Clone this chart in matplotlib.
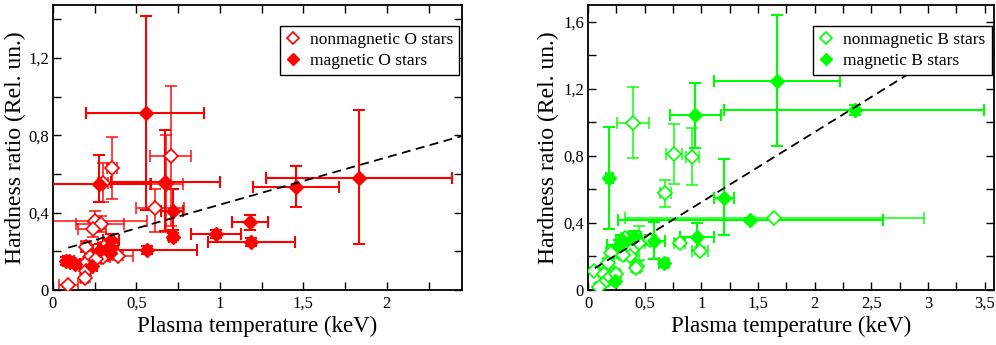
import matplotlib
matplotlib.use("Agg")
import matplotlib.pyplot as plt
from matplotlib.lines import Line2D

plt.rcParams['font.family'] = ['Liberation Serif', 'DejaVu Serif']

# ---------------- Left panel: O stars ----------------
o_mag_x = [0.555, 1.832, 1.457, 0.673, 0.275, 0.719, 0.717, 0.974, 1.18, 1.186, 0.563, 0.347, 0.28, 0.34, 0.235, 0.096, 0.13, 0.33, 0.08]
o_mag_y = [0.916, 0.580, 0.534, 0.556, 0.546, 0.41, 0.276, 0.288, 0.35, 0.248, 0.207, 0.258, 0.207, 0.19, 0.126, 0.15, 0.133, 0.215, 0.15]
o_mag_xlo = [0.355, 0.557, 0.257, 0.325, 0.32, 0.07, 0.02, 0.15, 0.105, 0.26, 0.21, 0.05, 0.04, 0.04, 0.03, 0.03, 0.03, 0.06, 0.02]
o_mag_xhi = [0.351, 0.559, 0.257, 0.325, 0.31, 0.06, 0.02, 0.15, 0.11, 0.264, 0.30, 0.05, 0.04, 0.04, 0.03, 0.03, 0.03, 0.06, 0.02]
o_mag_ylo = [0.503, 0.344, 0.104, 0.25, 0.09, 0.10, 0.02, 0.02, 0.04, 0.02, 0.02, 0.03, 0.03, 0.02, 0.02, 0.02, 0.02, 0.03, 0.02]
o_mag_yhi = [0.50, 0.35, 0.107, 0.27, 0.15, 0.11, 0.02, 0.02, 0.04, 0.02, 0.02, 0.03, 0.03, 0.02, 0.02, 0.02, 0.02, 0.03, 0.02]

o_non_x = [0.355, 0.705, 0.613, 0.252, 0.29, 0.24, 0.2, 0.22, 0.19, 0.2, 0.19, 0.092, 0.39, 0.30, 0.26, 0.31, 0.30, 0.68]
o_non_y = [0.629, 0.693, 0.425, 0.357, 0.34, 0.313, 0.224, 0.17, 0.137, 0.10, 0.062, 0.026, 0.176, 0.17, 0.16, 0.227, 0.555, 0.55]
o_non_xlo = [0.03, 0.125, 0.113, 0.26, 0.15, 0.09, 0.03, 0.03, 0.02, 0.02, 0.02, 0.055, 0.06, 0.04, 0.03, 0.04, 0.03, 0.1]
o_non_xhi = [0.03, 0.12, 0.172, 0.31, 0.135, 0.08, 0.03, 0.03, 0.02, 0.02, 0.02, 0.055, 0.09, 0.04, 0.03, 0.04, 0.03, 0.1]
o_non_ylo = [0.16, 0.36, 0.125, 0.05, 0.04, 0.04, 0.03, 0.02, 0.02, 0.02, 0.02, 0.01, 0.02, 0.02, 0.02, 0.02, 0.10, 0.25]
o_non_yhi = [0.16, 0.36, 0.095, 0.05, 0.04, 0.04, 0.03, 0.02, 0.02, 0.02, 0.02, 0.01, 0.02, 0.02, 0.02, 0.02, 0.10, 0.25]

o_fit_x = [0.092, 2.45]
o_fit_y = [0.219, 0.796]

# ---------------- Right panel: B stars ----------------
b_mag_x = [1.668, 2.354, 0.948, 0.186, 1.20, 1.433, 0.965, 0.58, 0.668, 0.30, 0.27, 0.41, 0.236]
b_mag_y = [1.248, 1.075, 1.043, 0.667, 0.547, 0.418, 0.318, 0.293, 0.159, 0.30, 0.27, 0.314, 0.054]
b_mag_xlo = [0.558, 1.15, 0.228, 0.03, 0.09, 1.17, 0.15, 0.10, 0.04, 0.05, 0.10, 0.06, 0.02]
b_mag_xhi = [0.56, 1.14, 0.222, 0.03, 0.09, 1.17, 0.15, 0.10, 0.04, 0.05, 0.10, 0.06, 0.02]
b_mag_ylo = [0.387, 0.03, 0.193, 0.305, 0.217, 0.01, 0.078, 0.11, 0.02, 0.03, 0.03, 0.04, 0.02]
b_mag_yhi = [0.39, 0.03, 0.19, 0.304, 0.233, 0.01, 0.082, 0.11, 0.02, 0.03, 0.03, 0.04, 0.02]

b_non_x = [0.40, 0.756, 0.921, 0.683, 1.642, 0.81, 0.99, 0.432, 0.45, 0.39, 0.37, 0.31, 0.206, 0.18, 0.053, 0.14, 0.155, 0.19, 0.10, 0.25, 0.33, 0.425, 0.55]
b_non_y = [0.999, 0.812, 0.796, 0.577, 0.428, 0.283, 0.235, 0.143, 0.28, 0.239, 0.203, 0.208, 0.223, 0.163, 0.115, 0.097, 0.052, 0.08, 0.02, 0.095, 0.31, 0.13, 0.30]
b_non_xerr = [0.14, 0.07, 0.06, 0.05, 1.32, 0.05, 0.07, 0.03, 0.05, 0.04, 0.04, 0.04, 0.05, 0.05, 0.05, 0.03, 0.03, 0.03, 0.03, 0.03, 0.04, 0.03, 0.05]
b_non_yerr = [0.21, 0.18, 0.17, 0.08, 0.01, 0.02, 0.02, 0.03, 0.10, 0.03, 0.02, 0.02, 0.03, 0.03, 0.02, 0.02, 0.02, 0.02, 0.02, 0.02, 0.02, 0.02, 0.03]

b_fit_x = [0.059, 2.91]
b_fit_y = [0.13, 1.323]

x_label = "Plasma temperature (keV)"
y_label = "Hardness ratio (Rel. un.)"

left_xticks = [0, 0.5, 1, 1.5, 2]
left_xticklabels = ["0", "0,5", "1", "1,5", "2"]
left_yticks = [0, 0.4, 0.8, 1.2]
left_yticklabels = ["0", "0,4", "0,8", "1,2"]
right_xticks = [0, 0.5, 1, 1.5, 2, 2.5, 3, 3.5]
right_xticklabels = ["0", "0,5", "1", "1,5", "2", "2,5", "3", "3,5"]
right_yticks = [0, 0.4, 0.8, 1.2, 1.6]
right_yticklabels = ["0", "0,4", "0,8", "1,2", "1,6"]

RED = "#ff0000"
GREEN = "#00ff00"

fig = plt.figure(figsize=(9.96, 3.45), dpi=100)
axL = fig.add_axes([0.0532, 0.1594, 0.4106, 0.826])
axR = fig.add_axes([0.5904, 0.1594, 0.4076, 0.826])


def draw(ax, color, mx, my, mxe, mye, nx, ny, nxe, nye, fx, fy, labels):
    ax.errorbar(nx, ny, xerr=nxe, yerr=nye, fmt='none', ecolor=color, elinewidth=1.3,
                capsize=4, capthick=1.3, alpha=0.8, zorder=2)
    ax.errorbar(mx, my, xerr=mxe, yerr=mye, fmt='none', ecolor=color, elinewidth=1.5,
                capsize=4, capthick=1.5, zorder=3)
    ax.plot(nx, ny, linestyle='none', marker='D', markersize=7, markerfacecolor='white',
            markeredgecolor=color, markeredgewidth=1.2, zorder=4)
    ax.plot(mx, my, linestyle='none', marker='D', markersize=7, markerfacecolor=color,
            markeredgecolor=color, zorder=5)
    ax.plot(fx, fy, linestyle=(0, (5, 3)), color='black', linewidth=1.3, zorder=6)
    handles = [Line2D([], [], linestyle='none', marker='D', markersize=6, markerfacecolor='white',
                      markeredgecolor=color, markeredgewidth=1.2),
               Line2D([], [], linestyle='none', marker='D', markersize=6, markerfacecolor=color,
                      markeredgecolor=color)]
    leg = ax.legend(handles, labels, loc='upper right', bbox_to_anchor=(0.994, 0.928),
                    borderaxespad=0, fontsize=12.5, frameon=True, fancybox=False,
                    edgecolor='black', framealpha=1, handlelength=0.8, handletextpad=0.6,
                    borderpad=0.35, labelspacing=0.3)
    leg.get_frame().set_linewidth(1.0)
    leg.set_zorder(10)


draw(axL, RED, o_mag_x, o_mag_y, [o_mag_xlo, o_mag_xhi], [o_mag_ylo, o_mag_yhi],
     o_non_x, o_non_y, [o_non_xlo, o_non_xhi], [o_non_ylo, o_non_yhi], o_fit_x, o_fit_y,
     ["nonmagnetic O stars", "magnetic O stars"])
draw(axR, GREEN, b_mag_x, b_mag_y, [b_mag_xlo, b_mag_xhi], [b_mag_ylo, b_mag_yhi],
     b_non_x, b_non_y, b_non_xerr, b_non_yerr, b_fit_x, b_fit_y,
     ["nonmagnetic B stars", "magnetic B stars"])

axL.set_xlim(0, 2.45)
axL.set_ylim(0, 1.473)
axR.set_xlim(0, 3.583)
axR.set_ylim(0, 1.70)

for ax, xt, xtl, yt, ytl, xminor, yminor, ylx in [
        (axL, left_xticks, left_xticklabels, left_yticks, left_yticklabels,
         [0.25, 0.75, 1.25, 1.75, 2.25], [0.2, 0.6, 1.0, 1.4], -0.066),
        (axR, right_xticks, right_xticklabels, right_yticks, right_yticklabels,
         [0.25, 0.75, 1.25, 1.75, 2.25, 2.75, 3.25], [0.2, 0.6, 1.0, 1.4], -0.072)]:
    ax.set_xticks(xt)
    ax.set_xticklabels(xtl)
    ax.set_yticks(yt)
    ax.set_yticklabels(ytl)
    ax.set_xticks(xminor, minor=True)
    ax.set_yticks(yminor, minor=True)
    ax.tick_params(which='both', direction='in', top=True, right=True, length=6, width=1.0,
                   labelsize=12, pad=4)
    ax.tick_params(axis='y', pad=3)
    for s in ax.spines.values():
        s.set_linewidth(1.3)
    ax.set_xlabel(x_label, fontsize=16.5, labelpad=3)
    ax.set_ylabel(y_label, fontsize=17)
    ax.yaxis.set_label_coords(ylx, 0.5)

fig.savefig("out.png", dpi=100)
